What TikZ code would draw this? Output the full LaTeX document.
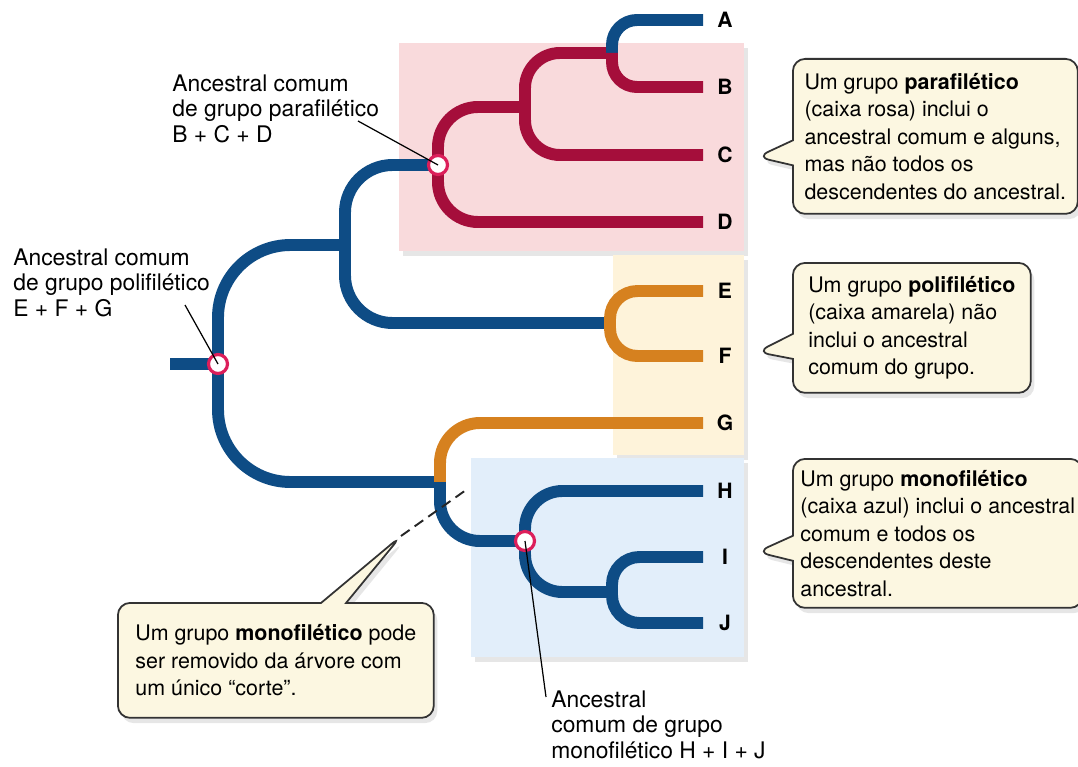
\documentclass[tikz,border=0pt]{standalone}
\usepackage{fontspec}
\setmainfont{TeX Gyre Heros}
\usepackage{tikz}
\usetikzlibrary{positioning, shapes.callouts, shadows}
\definecolor{treeblue}{RGB}{14, 76, 133}
\definecolor{treered}{RGB}{165, 14, 59}
\definecolor{treeorange}{RGB}{214, 129, 31}
\definecolor{ringred}{RGB}{220, 30, 90}
\definecolor{parapink}{RGB}{249, 218, 220}
\definecolor{poliyellow}{RGB}{254, 243, 218}
\definecolor{monoblue}{RGB}{226, 238, 250}
\definecolor{notecream}{RGB}{252, 247, 225}

\begin{document}
\begin{tikzpicture}[
    x=0.02cm, y=-0.02cm,
    branch/.style={draw=#1, line width=6.8pt},
    groupbox/.style={fill=#1, drop shadow={opacity=0.2, shadow xshift=2pt, shadow yshift=-3pt}},
    anc/.style={circle, draw=ringred, fill=white, line width=1.8pt, minimum size=0.38cm, inner sep=0pt},
    leaf/.style={font=\fontsize{12}{14}\selectfont\bfseries, inner sep=0pt},
    anclabel/.style={font=\fontsize{13}{14.7}\selectfont, align=left, inner sep=0pt, anchor=north west},
    note/.style={rectangle callout, rounded corners=7pt, draw=black!80, line width=1pt, fill=notecream,
        drop shadow={opacity=0.2, shadow xshift=2pt, shadow yshift=-3pt},
        font=\fontsize{12.2}{15.6}\selectfont, align=left, anchor=north west,
        inner xsep=0.15cm, inner ysep=0.2cm, callout pointer width=0.5cm},
    pointer/.style={black, line width=0.7pt}
]
    \useasboundingbox (0,0) rectangle (1078,767);

    % group boxes
    \path[groupbox=parapink] (399,43) rectangle (744,251);
    \path[groupbox=poliyellow] (613,255) rectangle (744,455);
    \path[groupbox=monoblue] (471,458) rectangle (744,657);

    % branching points and tips
    \coordinate (stem) at (170,364);
    \coordinate (rt) at (218,364);
    \coordinate (up) at (345,245);
    \coordinate (bcd) at (438,165);
    \coordinate (bc) at (525,107);
    \coordinate (ab) at (612,53);
    \coordinate (ef) at (610,323);
    \coordinate (low) at (440,482);
    \coordinate (hij) at (525,541);
    \coordinate (ij) at (612,592);
    \coordinate (tA) at (703,20);
    \coordinate (tB) at (703,87);
    \coordinate (tC) at (703,155);
    \coordinate (tD) at (703,222);
    \coordinate (tE) at (703,291);
    \coordinate (tF) at (703,356);
    \coordinate (tG) at (703,423);
    \coordinate (tH) at (703,491);
    \coordinate (tI) at (703,557);
    \coordinate (tJ) at (703,623);

    \draw[branch=treeblue] (stem) -- (rt);
    \draw[branch=treeblue, rounded corners=1.45cm] (rt) |- (up);
    \draw[branch=treeblue, rounded corners=1.45cm] (rt) |- (low);
    \draw[branch=treeblue, rounded corners=0.95cm] (up) |- (bcd);
    \draw[branch=treeblue, rounded corners=0.95cm] (up) |- (ef);
    \draw[branch=treered, rounded corners=0.8cm] (bcd) |- (bc);
    \draw[branch=treered, rounded corners=0.8cm] (bcd) |- (tD);
    \draw[branch=treered, rounded corners=0.7cm] (bc) |- (ab);
    \draw[branch=treered, rounded corners=0.7cm] (bc) |- (tC);
    \draw[branch=treeblue, rounded corners=0.5cm] (ab) |- (tA);
    \draw[branch=treered, rounded corners=0.5cm] (ab) |- (tB);
    \draw[branch=treeorange, rounded corners=0.55cm] (ef) |- (tE);
    \draw[branch=treeorange, rounded corners=0.55cm] (ef) |- (tF);
    \draw[branch=treeorange, rounded corners=0.8cm] (low) |- (tG);
    \draw[branch=treeblue, rounded corners=0.8cm] (low) |- (hij);
    \draw[branch=treeblue, rounded corners=0.75cm] (hij) |- (tH);
    \draw[branch=treeblue, rounded corners=0.75cm] (hij) |- (ij);
    \draw[branch=treeblue, rounded corners=0.55cm] (ij) |- (tI);
    \draw[branch=treeblue, rounded corners=0.55cm] (ij) |- (tJ);

    % common ancestors
    \node[anc] (rtc) at (rt) {};
    \node[anc] (bcdc) at (bcd) {};
    \node[anc] (hijc) at (hij) {};

    % taxa
    \node[leaf] (A) at ([xshift=0.44cm]tA) {A};
    \node[leaf] (B) at ([xshift=0.44cm]tB) {B};
    \node[leaf] (C) at ([xshift=0.44cm]tC) {C};
    \node[leaf] (D) at ([xshift=0.44cm]tD) {D};
    \node[leaf] (E) at ([xshift=0.44cm]tE) {E};
    \node[leaf] (F) at ([xshift=0.44cm]tF) {F};
    \node[leaf] (G) at ([xshift=0.44cm]tG) {G};
    \node[leaf] (H) at ([xshift=0.44cm]tH) {H};
    \node[leaf] (I) at ([xshift=0.44cm]tI) {I};
    \node[leaf] (J) at ([xshift=0.44cm]tJ) {J};

    % ancestor labels
    \node[anclabel] (polilbl) at (13,248) {Ancestral comum\\de grupo polifilético\\E + F + G};
    \node[anclabel] (paralbl) at (172,74) {Ancestral comum\\de grupo parafilético\\B + C + D};
    \node[anclabel] (monolbl) at (551,690) {Ancestral\\comum de grupo\\monofilético H + I + J};
    \coordinate (politip) at (185,305);
    \coordinate (paratip) at (358,121);
    \coordinate (monotip) at (546,697);
    \draw[pointer] (politip) -- (rtc.center);
    \draw[pointer] (paratip) -- (bcdc.center);
    \draw[pointer] (monotip) -- (hijc.center);

    % notes
    \coordinate (ptC) at (757,157);
    \coordinate (ptF) at (757,352);
    \coordinate (ptI) at (757,552);
    \coordinate (cutA) at (401,536);
    \coordinate (cutB) at (466,490);
    \draw[black!85, line width=1.1pt, dash pattern=on 6pt off 3.5pt] (cutA) -- (cutB);

    \node[note, minimum width=5.7cm, minimum height=3.1cm, callout absolute pointer={(ptC)}] (paranote) at (792,58)
        {Um grupo \textbf{parafilético}\\(caixa rosa) inclui o\\ancestral comum e alguns,\\mas não todos os\\descendentes do ancestral.};
    \node[note, minimum width=4.76cm, minimum height=2.6cm, callout absolute pointer={(ptF)}] (polinote) at (792,262)
        {Um grupo \textbf{polifilético}\\(caixa amarela) não\\inclui o ancestral\\comum do grupo.};
    \node[note, minimum width=5.66cm, minimum height=2.98cm, callout absolute pointer={(ptI)}] (mononote) at (792,458)
        {Um grupo \textbf{monofilético}\\(caixa azul) inclui o ancestral\\comum e todos os\\descendentes deste\\ancestral.};
    \node[note, minimum width=6.32cm, minimum height=2.3cm, callout absolute pointer={(cutA)}] (cutnote) at (117,602)
        {Um grupo \textbf{monofilético} pode\\ser removido da árvore com\\um único “corte”.};
\end{tikzpicture}
\end{document}
